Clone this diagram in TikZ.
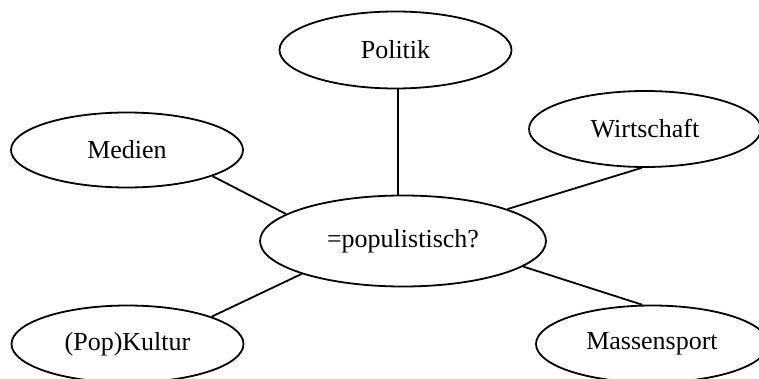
\documentclass[tikz,border=0pt]{standalone}
\usepackage{fontspec}
\setmainfont{Liberation Serif}
\usetikzlibrary{shapes.geometric}
\begin{document}
\begin{tikzpicture}[x=1pt,y=1pt,
  bubble/.style={ellipse, draw, line width=1.8pt, inner sep=0pt,
    minimum width=232pt, minimum height=77pt, font=\fontsize{26}{30}\selectfont},
  link/.style={line width=1.8pt}]
\useasboundingbox (0,0) rectangle (759,378);
\node[bubble] (politik) at (395.5,328) {Politik};
\node[bubble, minimum height=75pt] (medien) at (127,228) {Medien};
\node[bubble, minimum height=76pt] (wirt) at (645,249) {Wirtschaft};
\node[bubble, minimum width=286pt, minimum height=91pt] (cen) at (403,137) {=populistisch?};
\node[bubble] (kultur) at (127.5,34) {(Pop)Kultur};
\node[bubble] (sport) at (652,34) {Massensport};
\draw[link] (politik.-86) -- (politik.-86 |- cen.north);
\draw[link] (medien.-17) -- (cen.167);
\draw[link] (wirt.-95) -- (cen.17);
\draw[link] (kultur.18) -- (cen.-162);
\draw[link] (sport.104) -- (cen.-12);
\end{tikzpicture}
\end{document}
